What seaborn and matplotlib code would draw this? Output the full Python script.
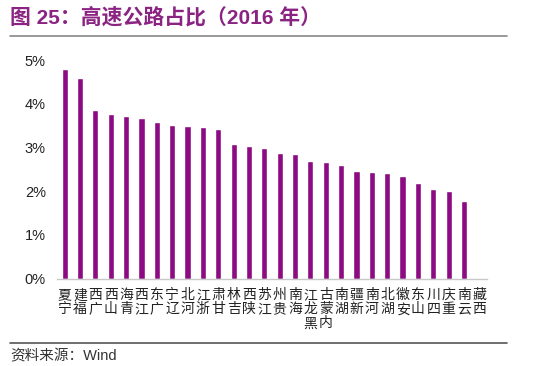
import numpy as np
import pandas as pd
import matplotlib
matplotlib.use("Agg")
import matplotlib.pyplot as plt
import seaborn as sns
from matplotlib.lines import Line2D
from matplotlib.ticker import FixedLocator, FuncFormatter

# highway share by province, 2016 (%)
provinces = ["宁夏", "福建", "广西", "山西", "青海", "江西", "广东", "辽宁", "河北", "浙江",
             "甘肃", "吉林", "陕西", "江苏", "贵州", "海南", "黑龙江", "内蒙古", "湖南", "新疆",
             "河南", "湖北", "安徽", "山东", "四川", "重庆", "云南", "西藏"]
shares = [4.80, 4.58, 3.86, 3.76, 3.71, 3.68, 3.57, 3.51, 3.49, 3.46,
          3.41, 3.08, 3.04, 2.99, 2.87, 2.86, 2.68, 2.66, 2.59, 2.45,
          2.44, 2.41, 2.34, 2.18, 2.05, 2.01, 1.77, np.nan]
y_ticks = [0, 1, 2, 3, 4, 5]

title = "图 25：高速公路占比（2016 年）"
source = "资料来源：Wind"

sns.set_style("white")
plt.rcParams["font.family"] = ["Liberation Sans", "Noto Sans CJK SC", "DejaVu Sans"]

df = pd.DataFrame({"province": provinces, "share": shares})

fig = plt.figure(figsize=(5.5, 3.66), dpi=100)
ax = fig.add_axes([57 / 550, 87.5 / 366, 430 / 550, 218.5 / 366])

sns.barplot(data=df, x="province", y="share", order=provinces, color="#8C0A82",
            saturation=1, width=0.4, ax=ax)

ax.set_ylim(0, 5)
ax.set_xlim(-0.5, len(provinces) - 0.5)
ax.set_yticks(y_ticks)
ax.yaxis.set_major_formatter(FuncFormatter(lambda v, _: f"{v:.0f}%"))
ax.tick_params(axis="y", length=0, labelsize=10.5, pad=8, colors="#222222")

# stacked upright characters, last character on top like the original
ax.set_xticks(range(len(provinces)))
ax.set_xticklabels(["\n".join(reversed(p)) for p in provinces],
                   family=["Noto Sans CJK SC"], fontsize=10, linespacing=1.0,
                   color="#222222")
ax.tick_params(axis="x", which="major", length=0, pad=7)
ax.xaxis.set_minor_locator(FixedLocator(np.arange(-0.5, len(provinces), 1)))
ax.tick_params(axis="x", which="minor", direction="in", length=3, width=0.8,
               color="#c8c8c8")

ax.set_xlabel("")
ax.set_ylabel("")
for side in ["top", "right", "left"]:
    ax.spines[side].set_visible(False)
ax.spines["bottom"].set_color("#c8c8c8")
ax.spines["bottom"].set_linewidth(1)

fig.text(10 / 550, 1 - 17 / 366, title, ha="left", va="center", fontsize=15,
         fontweight="bold", color="#8B2383",
         family=["Liberation Sans", "Noto Sans CJK SC"])
fig.add_artist(Line2D([10 / 550, 507 / 550], [1 - 36 / 366, 1 - 36 / 366],
                      color="#888888", linewidth=1.2))
fig.add_artist(Line2D([10 / 550, 507 / 550], [1 - 342.5 / 366, 1 - 342.5 / 366],
                      color="#555555", linewidth=1.2))
fig.text(10 / 550, 1 - 356 / 366, source, ha="left", va="center", fontsize=10.5,
         color="#333333", family=["Liberation Sans", "Noto Sans CJK SC"])

fig.savefig("out.png", dpi=100)
